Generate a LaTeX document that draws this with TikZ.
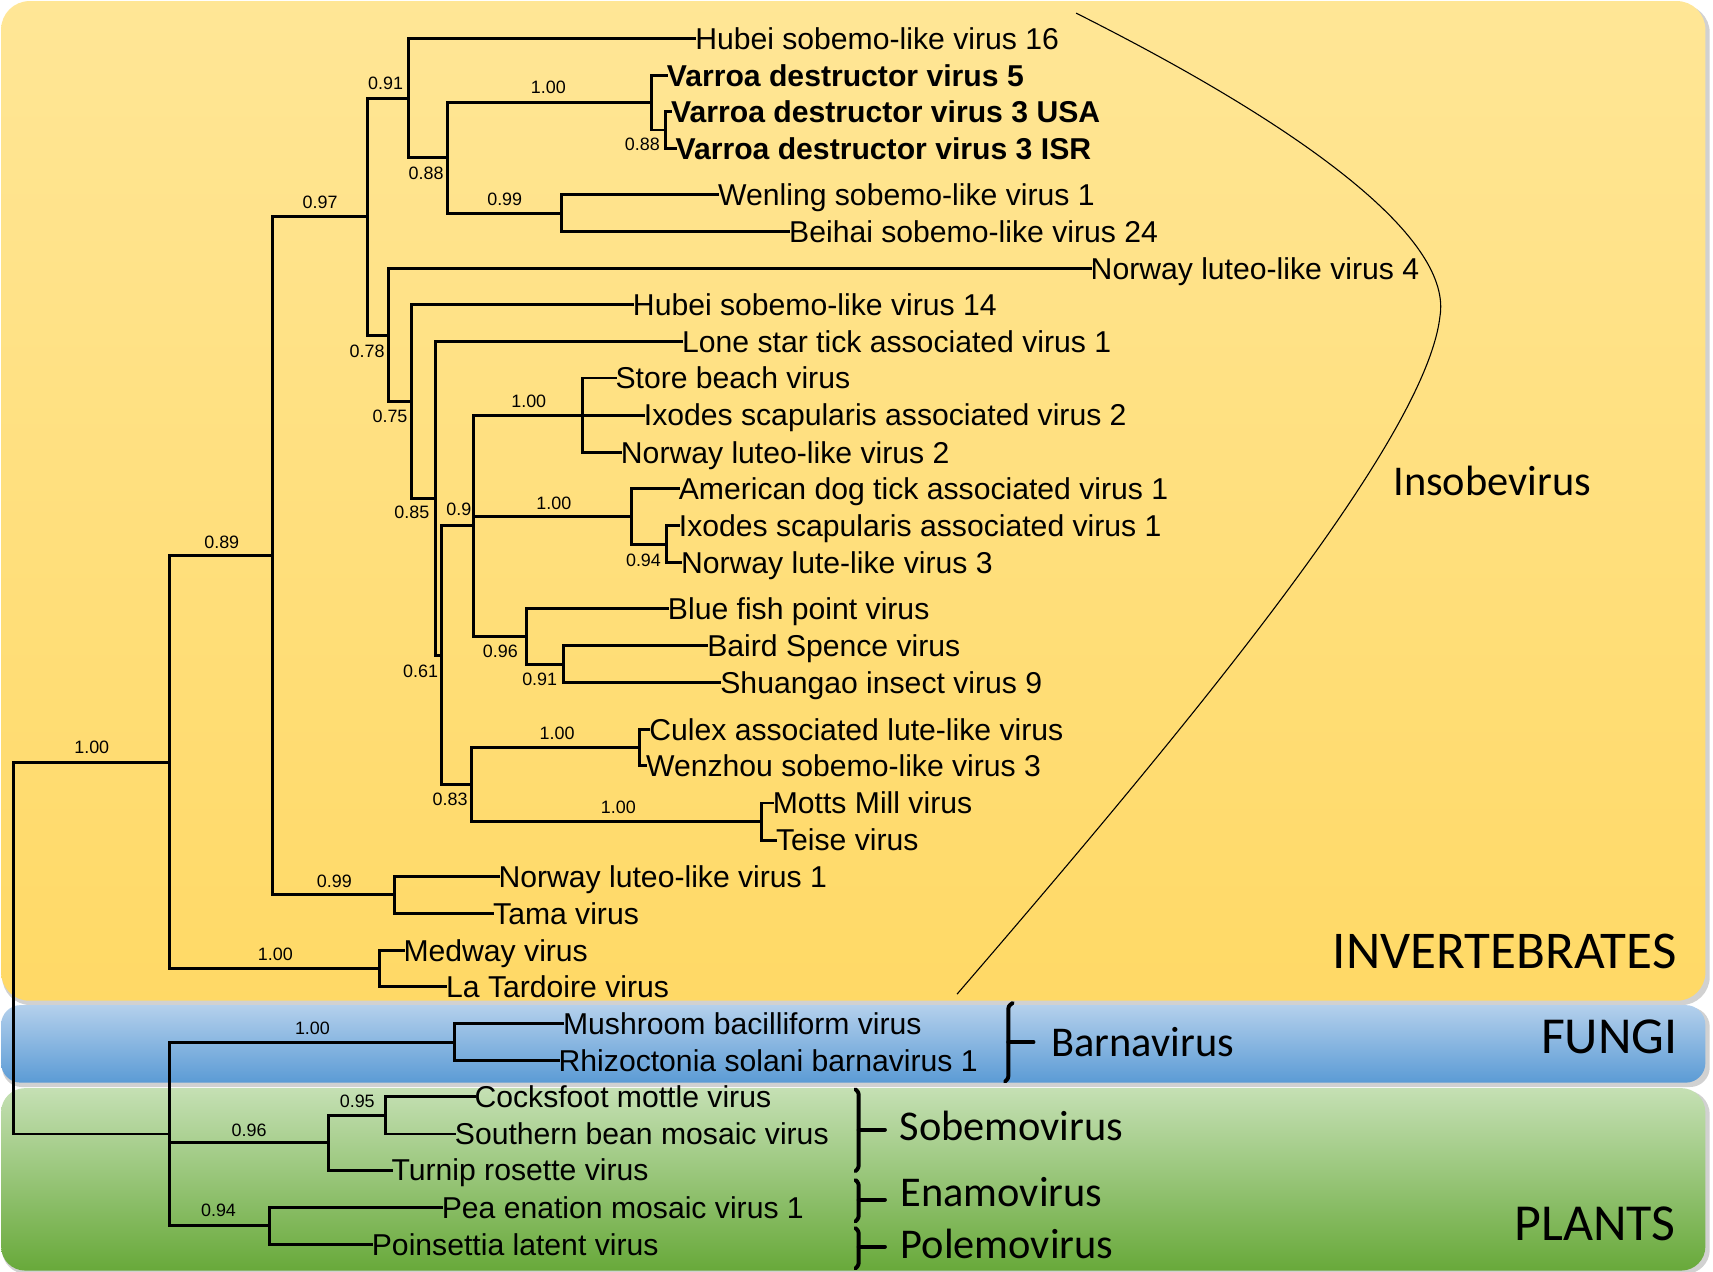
\documentclass[tikz,border=0pt]{standalone}
\usepackage{fontspec}
\setmainfont{Liberation Sans}
\newfontfamily\calibri{Carlito}
\usetikzlibrary{calc}
\definecolor{yelT}{HTML}{FFE696}
\definecolor{yelB}{HTML}{FFD966}
\definecolor{bluT}{HTML}{B4D0EC}
\definecolor{bluB}{HTML}{5B9BD5}
\definecolor{grnT}{HTML}{C5E0B4}
\definecolor{grnB}{HTML}{68A93A}
\tikzset{
  br/.style={line width=1.35pt, line cap=rect},
  leaf/.style={anchor=west, inner sep=0pt, font=\fontsize{13.8}{14}\selectfont, text height=9.9pt, text depth=0pt},
  boldleaf/.style={leaf, font=\fontsize{13.8}{14}\selectfont\bfseries},
  bs/.style={inner sep=0pt, font=\fontsize{8.2}{9}\selectfont, text height=5.9pt, text depth=0pt},
  grp/.style={anchor=west, inner sep=0pt, font=\calibri\fontsize{19.4}{20}\selectfont, text height=12.5pt, text depth=0pt},
  region/.style={anchor=east, inner sep=0pt, font=\calibri\fontsize{23.75}{25}\selectfont, text height=15.3pt, text depth=0pt},
  brk/.style={line width=1.8pt, line cap=round, rounded corners=1pt},
  boxshadow/.style={fill=black, opacity=0.18},
}
\begin{document}
\begin{tikzpicture}[x=0.5pt, y=-0.5pt]
\useasboundingbox (0,0) rectangle (1568,1164);
\fill[white] (0,0) rectangle (1568,1164);
% background panels
\fill[boxshadow, rounded corners=13pt] (2,4) rectangle (1565,920);
\fill[boxshadow, rounded corners=9pt] (2,922) rectangle (1565,995);
\fill[boxshadow, rounded corners=11pt] (2,998) rectangle (1565,1166);
\shade[top color=yelT, bottom color=yelB, rounded corners=13pt] (1,1) rectangle (1561,916);
\shade[top color=bluT, bottom color=bluB, rounded corners=9pt] (1,920) rectangle (1561,991);
\shade[top color=grnT, bottom color=grnB, rounded corners=11pt] (1,996) rectangle (1561,1163);

% leaves
\node[leaf] (l1) at (636,35) {Hubei sobemo-like virus 16};
\node[boldleaf] (l2) at (610,69) {Varroa destructor virus 5};
\node[boldleaf] (l3) at (614,102) {Varroa destructor virus 3 USA};
\node[boldleaf] (l4) at (618,136) {Varroa destructor virus 3 ISR};
\node[leaf] (l5) at (657,178) {Wenling sobemo-like virus 1};
\node[leaf] (l6) at (722,212) {Beihai sobemo-like virus 24};
\node[leaf] (l7) at (998,246) {Norway luteo-like virus 4};
\node[leaf] (l8) at (579,279) {Hubei sobemo-like virus 14};
\node[leaf] (l9) at (624,313) {Lone star tick associated virus 1};
\node[leaf] (l10) at (563,346) {Store beach virus};
\node[leaf] (l11) at (589,380) {Ixodes scapularis associated virus 2};
\node[leaf] (l12) at (568,414) {Norway luteo-like virus 2};
\node[leaf] (l13) at (621,447) {American dog tick associated virus 1};
\node[leaf] (l14) at (621,481) {Ixodes scapularis associated virus 1};
\node[leaf] (l15) at (623,515) {Norway lute-like virus 3};
\node[leaf] (l16) at (611,557) {Blue fish point virus};
\node[leaf] (l17) at (647,591) {Baird Spence virus};
\node[leaf] (l18) at (659,625) {Shuangao insect virus 9};
\node[leaf] (l19) at (594,668) {Culex associated lute-like virus};
\node[leaf] (l20) at (591,701) {Wenzhou sobemo-like virus 3};
\node[leaf] (l21) at (707,735) {Motts Mill virus};
\node[leaf] (l22) at (710,769) {Teise virus};
\node[leaf] (l23) at (456,802) {Norway luteo-like virus 1};
\node[leaf] (l24) at (451,836) {Tama virus};
\node[leaf] (l25) at (369,870) {Medway virus};
\node[leaf] (l26) at (408,903) {La Tardoire virus};
\node[leaf] (l27) at (515,937) {Mushroom bacilliform virus};
\node[leaf] (l28) at (511,971) {Rhizoctonia solani barnavirus 1};
\node[leaf] (l29) at (434,1004) {Cocksfoot mottle virus};
\node[leaf] (l30) at (416,1038) {Southern bean mosaic virus};
\node[leaf] (l31) at (358,1071) {Turnip rosette virus};
\node[leaf] (l32) at (404,1105) {Pea enation mosaic virus 1};
\node[leaf] (l33) at (340,1139) {Poinsettia latent virus};

% internal nodes
\coordinate (R) at (12,867.8);
\coordinate (INV) at (155,697.6);
\coordinate (A) at (249,508.6);
\coordinate (MW) at (347,886.5);
\coordinate (B) at (336,198.3);
\coordinate (NT) at (361,819);
\coordinate (C) at (374,89.75);
\coordinate (D) at (356,306.8);
\coordinate (E) at (410,144.5);
\coordinate (V) at (596,94);
\coordinate (VS) at (609,119);
\coordinate (W) at (514,195);
\coordinate (F) at (377,367.7);
\coordinate (G) at (399,456.4);
\coordinate (H) at (404,599.75);
\coordinate (I) at (433,481.25);
\coordinate (K) at (533,380);
\coordinate (L) at (578,472.5);
\coordinate (LS) at (610,498);
\coordinate (M) at (482,582.5);
\coordinate (N) at (516,608);
\coordinate (J) at (432,718.25);
\coordinate (O) at (585,684.5);
\coordinate (P) at (697,752);
\coordinate (FP) at (155,1038);
\coordinate (FG) at (416,954);
\coordinate (SB) at (301,1046);
\coordinate (SS) at (353,1021);
\coordinate (PL) at (247,1122);

% branches
\draw[br] (R) |- (INV); \draw[br] (R) |- (FP);
\draw[br] (INV) |- (A); \draw[br] (INV) |- (MW);
\draw[br] (A) |- (B); \draw[br] (A) |- (NT);
\draw[br] (B) |- (C); \draw[br] (B) |- (D);
\draw[br] (C) |- (l1.west); \draw[br] (C) |- (E);
\draw[br] (E) |- (V); \draw[br] (E) |- (W);
\draw[br] (V) |- (l2.west); \draw[br] (V) |- (VS);
\draw[br] (VS) |- (l3.west); \draw[br] (VS) |- (l4.west);
\draw[br] (W) |- (l5.west); \draw[br] (W) |- (l6.west);
\draw[br] (D) |- (l7.west); \draw[br] (D) |- (F);
\draw[br] (F) |- (l8.west); \draw[br] (F) |- (G);
\draw[br] (G) |- (l9.west); \draw[br] (G) |- (H);
\draw[br] (H) |- (I); \draw[br] (H) |- (J);
\draw[br] (I) |- (K); \draw[br] (I) |- (L); \draw[br] (I) |- (M);
\draw[br] (K) |- (l10.west); \draw[br] (K) -- (l11.west); \draw[br] (K) |- (l12.west);
\draw[br] (L) |- (l13.west); \draw[br] (L) |- (LS);
\draw[br] (LS) |- (l14.west); \draw[br] (LS) |- (l15.west);
\draw[br] (M) |- (l16.west); \draw[br] (M) |- (N);
\draw[br] (N) |- (l17.west); \draw[br] (N) |- (l18.west);
\draw[br] (J) |- (O); \draw[br] (J) |- (P);
\draw[br] (O) |- (l19.west); \draw[br] (O) |- (l20.west);
\draw[br] (P) |- (l21.west); \draw[br] (P) |- (l22.west);
\draw[br] (NT) |- (l23.west); \draw[br] (NT) |- (l24.west);
\draw[br] (MW) |- (l25.west); \draw[br] (MW) |- (l26.west);
\draw[br] (FP) |- (FG); \draw[br] (FP) |- (SB); \draw[br] (FP) |- (PL);
\draw[br] (FG) |- (l27.west); \draw[br] (FG) |- (l28.west);
\draw[br] (SB) |- (SS); \draw[br] (SB) |- (l31.west);
\draw[br] (SS) |- (l29.west); \draw[br] (SS) |- (l30.west);
\draw[br] (PL) |- (l32.west); \draw[br] (PL) |- (l33.west);

% support values
\node[bs] (s1) at (84,684) {1.00};
\node[bs] (s2) at (203,496) {0.89};
\node[bs] (s3) at (293,185) {0.97};
\node[bs] (s4) at (353,76) {0.91};
\node[bs] (s5) at (502,80) {1.00};
\node[bs] (s6) at (390,158) {0.88};
\node[bs] (s7) at (588,132) {0.88};
\node[bs] (s8) at (462,182) {0.99};
\node[bs] (s9) at (336,321) {0.78};
\node[bs] (s10) at (357,381) {0.75};
\node[bs] (s11) at (377,469) {0.85};
\node[bs] (s12) at (420,466) {0.9};
\node[bs] (s13) at (484,367) {1.00};
\node[bs] (s14) at (507,460) {1.00};
\node[bs] (s15) at (589,513) {0.94};
\node[bs] (s16) at (458,596) {0.96};
\node[bs] (s17) at (494,622) {0.91};
\node[bs] (s18) at (385,614) {0.61};
\node[bs] (s19) at (510,671) {1.00};
\node[bs] (s20) at (412,731) {0.83};
\node[bs] (s21) at (566,739) {1.00};
\node[bs] (s22) at (306,806) {0.99};
\node[bs] (s23) at (252,873) {1.00};
\node[bs] (s24) at (286,941) {1.00};
\node[bs] (s25) at (327,1008) {0.95};
\node[bs] (s26) at (228,1034) {0.96};
\node[bs] (s27) at (200,1108) {0.94};

% Insobevirus arc
\coordinate (arcA) at (985,12);
\coordinate (arcM) at (1318,290);
\coordinate (arcB) at (876,910);
\draw[line width=0.5pt] (arcA) .. controls (1200,120) and (1330,220) .. (arcM) .. controls (1305,400) and (1100,650) .. (arcB);
\node[grp] (insob) at (1275,441) {Insobevirus};

% genus brackets
\coordinate (bT) at (923,918); \coordinate (bB) at (923,990); \coordinate (bM) at (923,954); \coordinate (bE) at (946,954);
\draw[brk] ($(bT)+(4,0)$) -- ($(bT)+(0,3)$) -- ($(bB)+(0,-3)$) -- ($(bB)+(-3,0)$); \draw[brk] (bM) -- (bE);
\node[grp] (barna) at (962,955) {Barnavirus};
\coordinate (sT) at (786,997); \coordinate (sB) at (786,1072); \coordinate (sM) at (786,1034); \coordinate (sE) at (810,1034);
\draw[brk] ($(sT)+(-3,0)$) -- ($(sT)+(0,3)$) -- ($(sB)+(0,-3)$) -- ($(sB)+(-3,0)$); \draw[brk] (sM) -- (sE);
\node[grp] (sobe) at (823,1031) {Sobemovirus};
\coordinate (eT) at (786,1080); \coordinate (eB) at (786,1118); \coordinate (eM) at (786,1098); \coordinate (eE) at (810,1098);
\draw[brk] ($(eT)+(-3,0)$) -- ($(eT)+(0,3)$) -- ($(eB)+(0,-3)$) -- ($(eB)+(-3,0)$); \draw[brk] (eM) -- (eE);
\node[grp] (enam) at (824,1092) {Enamovirus};
\coordinate (pT) at (786,1124); \coordinate (pB) at (786,1161); \coordinate (pM) at (786,1141); \coordinate (pE) at (810,1141);
\draw[brk] ($(pT)+(-3,0)$) -- ($(pT)+(0,3)$) -- ($(pB)+(0,-3)$) -- ($(pB)+(-3,0)$); \draw[brk] (pM) -- (pE);
\node[grp] (polem) at (824,1139) {Polemovirus};

% host labels
\node[region, font=\calibri\fontsize{24.3}{25}\selectfont] (inv) at (1535,871) {INVERTEBRATES};
\node[region] (fun) at (1536,949) {FUNGI};
\node[region] (pla) at (1534,1120) {PLANTS};
\end{tikzpicture}
\end{document}
